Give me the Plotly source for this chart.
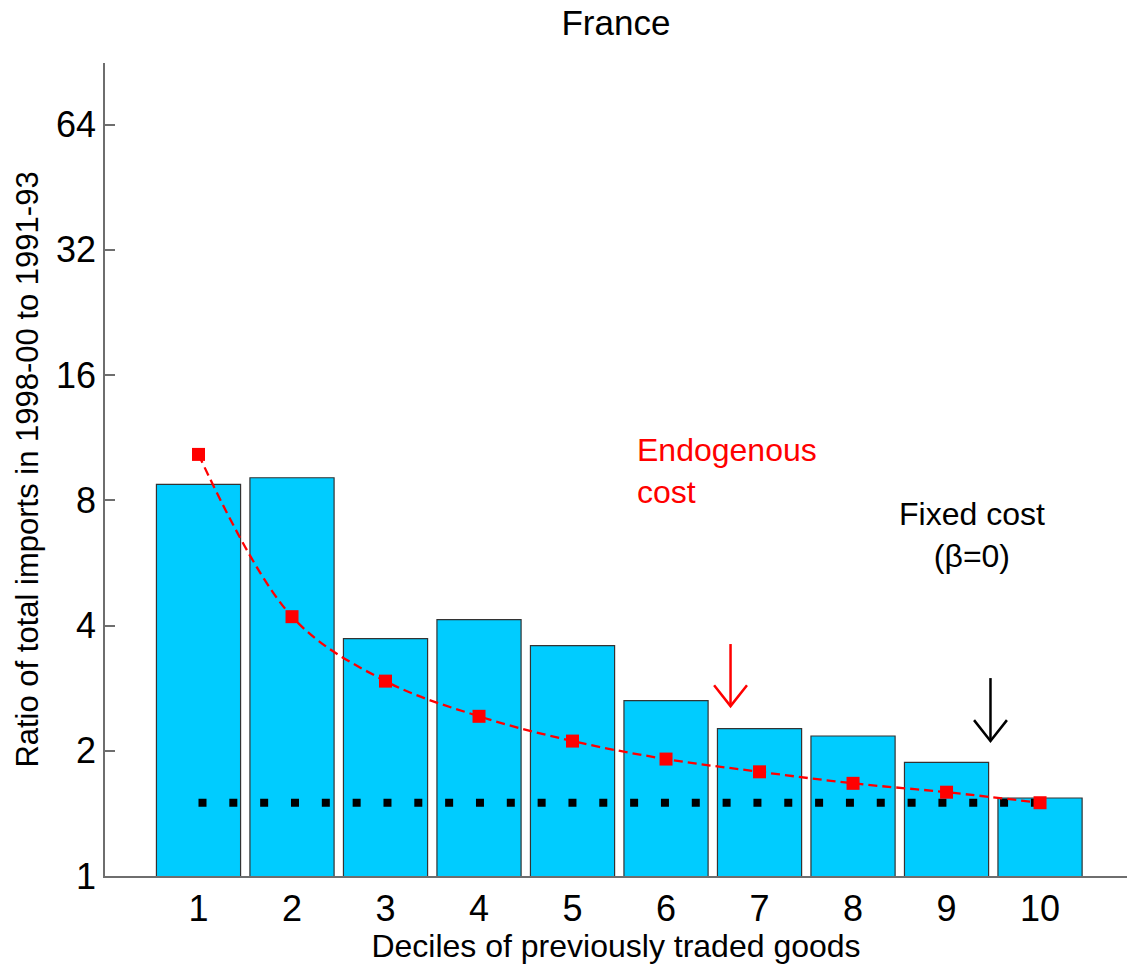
import math
import plotly.graph_objects as go

# Deciles of previously traded goods
deciles = [1, 2, 3, 4, 5, 6, 7, 8, 9, 10]
# Observed ratio of total imports, 1998-00 vs 1991-93
observed_ratio = [8.73, 9.06, 3.72, 4.13, 3.58, 2.64, 2.26, 2.17, 1.875, 1.54]
# Model prediction with endogenous cost
endogenous_ratio = [10.31, 4.20, 2.94, 2.42, 2.11, 1.91, 1.78, 1.67, 1.59, 1.50]
# Model prediction with fixed cost (beta = 0)
fixed_level = 1.5
fixed_ratio = [fixed_level] * len(deciles)

y_ticks = [1, 2, 4, 8, 16, 32, 64]

# Pointer arrows: x position, start, tip, colour
arrow_x = [6.69, 9.47]
arrow_top = [3.61, 2.99]
arrow_tip = [2.56, 2.11]
arrow_color = ["#ff0000", "#000000"]
head_half_width = 0.176   # in decile units
head_factor = 1.123       # multiplicative height of head on log axis

# Text labels: x, y (data value), text, colour, anchor
label_x = [5.67, 9.27]
label_y = [9.4, 6.6]
label_text = ["Endogenous<br>cost", "Fixed cost<br>(β=0)"]
label_color = ["#ff0000", "#000000"]
label_anchor = ["left", "center"]

FONT = "Liberation Sans, Arial, sans-serif"

fig = go.Figure()

fig.add_trace(go.Bar(
    x=deciles, y=observed_ratio, width=0.9,
    marker=dict(color="#00ccff", line=dict(color="#333333", width=1.2)),
    showlegend=False, hoverinfo="skip",
))

fig.add_trace(go.Scatter(
    x=deciles, y=fixed_ratio, mode="lines",
    line=dict(color="#000000", width=8, dash="8px,22.83px"),
    showlegend=False, hoverinfo="skip",
))

fig.add_trace(go.Scatter(
    x=deciles, y=endogenous_ratio, mode="lines+markers",
    line=dict(color="#ff0000", width=2.3, dash="9px,5px", shape="spline", smoothing=1.0),
    marker=dict(symbol="square", size=13, color="#ff0000"),
    showlegend=False, hoverinfo="skip",
))

for ax, top, tip, col in zip(arrow_x, arrow_top, arrow_tip, arrow_color):
    fig.add_trace(go.Scatter(
        x=[ax, ax], y=[top, tip], mode="lines",
        line=dict(color=col, width=2.5),
        showlegend=False, hoverinfo="skip",
    ))
    fig.add_trace(go.Scatter(
        x=[ax - head_half_width, ax, ax + head_half_width],
        y=[tip * head_factor, tip, tip * head_factor],
        mode="lines", line=dict(color=col, width=2.5),
        showlegend=False, hoverinfo="skip",
    ))

# annotations on a log axis take log10 positions
for lx, ly, txt, col, anc in zip(label_x, label_y, label_text, label_color, label_anchor):
    fig.add_annotation(
        x=lx, y=math.log10(ly), xref="x", yref="y", xanchor=anc, yanchor="middle",
        text=txt, align=anc, showarrow=False,
        font=dict(family=FONT, size=32, color=col),
    )

fig.update_layout(
    width=1127, height=964,
    margin=dict(l=105, r=0, t=63, b=88),
    paper_bgcolor="white", plot_bgcolor="white",
    font=dict(family=FONT, color="#000000"),
    title=dict(
        text="France", x=0.5465, xanchor="center",
        y=1 - 23 / 964, yref="container", yanchor="middle",
        font=dict(family=FONT, size=35, color="#000000"),
    ),
    bargap=0.1,
)

fig.update_xaxes(
    range=[0, 10.93], tickvals=deciles, ticktext=[str(d) for d in deciles],
    ticks="", showgrid=False, zeroline=False,
    showline=True, linecolor="#6e6e6e", linewidth=1.5,
    tickfont=dict(family=FONT, size=36, color="#000000"),
    title=dict(text="Deciles of previously traded goods",
               font=dict(family=FONT, size=32, color="#000000"), standoff=2),
)

fig.update_yaxes(
    type="log", range=[0, 1.954],
    tickvals=y_ticks, ticktext=[str(v) for v in y_ticks],
    ticks="inside", ticklen=10, tickcolor="#6e6e6e", tickwidth=1.5,
    showgrid=False, zeroline=False,
    showline=True, linecolor="#6e6e6e", linewidth=1.5,
    tickfont=dict(family=FONT, size=36, color="#000000"),
    title=dict(text="Ratio of total imports in 1998-00 to 1991-93",
               font=dict(family=FONT, size=31, color="#000000"), standoff=8),
)

fig.write_html("out.html")
